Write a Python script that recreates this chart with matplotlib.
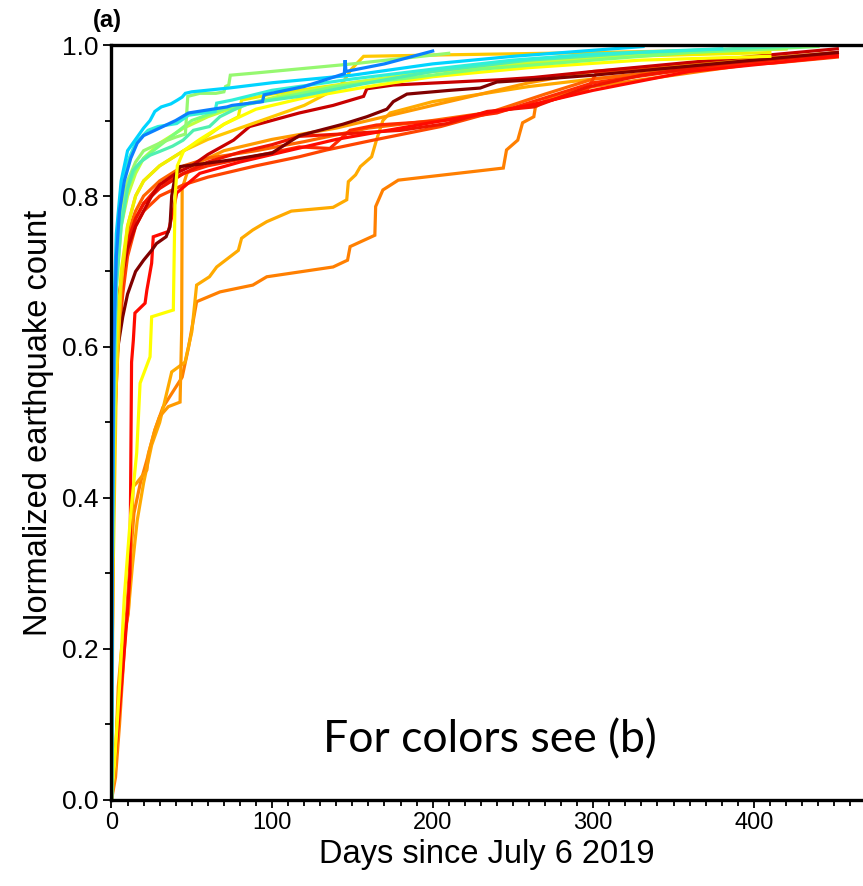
import matplotlib.pyplot as plt
from matplotlib.ticker import MultipleLocator

# ---- curves: days since 2019-07-06 vs. normalized cumulative count ----
t_blue = [0, 0.5, 1.5, 3, 5, 8, 12, 16, 20, 25, 30, 40, 48, 72, 75, 94, 95,
          120, 145, 145.5, 146, 170, 200]
n_blue = [0, 0.35, 0.6, 0.72, 0.78, 0.82, 0.85, 0.87, 0.88, 0.885, 0.89, 0.90,
          0.91, 0.918, 0.92, 0.925, 0.934, 0.945, 0.962, 0.98, 0.965, 0.975, 0.992]

t_cyan = [0, 0.5, 1.5, 3, 6, 10, 15, 20, 24, 27, 31, 37, 41, 44, 46, 50, 73,
          100, 150, 200, 250, 331]
n_cyan = [0, 0.4, 0.65, 0.75, 0.82, 0.86, 0.875, 0.89, 0.90, 0.912, 0.918,
          0.922, 0.927, 0.931, 0.936, 0.938, 0.943, 0.95, 0.96, 0.975, 0.985, 0.998]

t_mint = [0, 0.5, 1.5, 3, 6, 10, 13.5, 18, 24, 30, 38, 44.6, 51, 61, 67.5, 76,
          86, 117, 160, 200, 260, 330, 429]
n_mint = [0, 0.3, 0.55, 0.68, 0.76, 0.81, 0.834, 0.845, 0.854, 0.859, 0.866,
          0.874, 0.887, 0.892, 0.905, 0.914, 0.923, 0.932, 0.95, 0.965, 0.98,
          0.99, 0.999]

t_aqua = [0, 0.5, 1.5, 3, 6, 10, 15, 22.7, 29, 40.6, 48, 64.5, 65.5, 75, 100,
          150, 200, 250, 300, 380]
n_aqua = [0, 0.35, 0.6, 0.72, 0.8, 0.845, 0.87, 0.887, 0.892, 0.896, 0.907,
          0.912, 0.923, 0.927, 0.94, 0.955, 0.968, 0.98, 0.988, 0.995]

t_lgreen = [0, 0.5, 1.5, 3, 6, 10, 15, 20, 30, 40, 46, 47.5, 55, 65, 70, 71,
            73, 74, 90, 120, 150, 180, 210]
n_lgreen = [0, 0.3, 0.55, 0.7, 0.78, 0.82, 0.845, 0.86, 0.87, 0.878, 0.882,
            0.932, 0.936, 0.936, 0.938, 0.945, 0.947, 0.96, 0.963, 0.969,
            0.975, 0.982, 0.989]

t_green = [0, 0.5, 1.5, 3, 6, 10, 15, 20, 26, 35, 50, 70, 100, 140, 180, 230,
           300, 360, 440]
n_green = [0, 0.3, 0.55, 0.7, 0.77, 0.81, 0.835, 0.85, 0.86, 0.875, 0.9,
           0.915, 0.928, 0.945, 0.955, 0.968, 0.98, 0.99, 0.998]

t_yellow = [0, 2, 5, 8, 12, 15.7, 17.8, 24, 25, 38.5, 39.6, 41, 45, 55, 70,
            90, 120, 160, 200, 260, 330, 410]
n_yellow = [0, 0.05, 0.15, 0.27, 0.38, 0.46, 0.552, 0.587, 0.64, 0.649, 0.80,
            0.84, 0.86, 0.875, 0.895, 0.915, 0.93, 0.945, 0.958, 0.97, 0.98, 0.985]

t_yellow2 = [0, 1, 3, 6, 10, 15, 20, 30, 45, 60, 70, 79, 81, 100, 150, 200,
             260, 320, 410]
n_yellow2 = [0, 0.4, 0.6, 0.7, 0.76, 0.8, 0.82, 0.84, 0.86, 0.88, 0.895,
             0.905, 0.927, 0.935, 0.95, 0.965, 0.975, 0.985, 0.99]

t_ygreen = [0, 0.5, 1.5, 3, 6, 10, 15, 20, 30, 45, 60, 80, 110, 150, 200, 260,
            330, 420]
n_ygreen = [0, 0.3, 0.55, 0.68, 0.76, 0.8, 0.83, 0.85, 0.87, 0.89, 0.905,
            0.92, 0.935, 0.95, 0.965, 0.978, 0.988, 0.995]

t_gold = [0, 1, 3, 6, 10, 15, 20, 30, 45, 60, 80, 100, 120, 138, 144, 149,
          157, 209, 300, 420]
n_gold = [0, 0.3, 0.55, 0.68, 0.76, 0.8, 0.82, 0.84, 0.86, 0.875, 0.89,
          0.905, 0.92, 0.94, 0.95, 0.967, 0.985, 0.987, 0.99, 0.995]

t_amber = [0, 2.2, 4.2, 6.4, 10.5, 11.5, 13.5, 15.7, 22, 23, 27, 30, 35.4,
           42.7, 43.7, 44, 47, 55, 70, 100, 140, 180, 220, 260, 300, 360, 452]
n_amber = [0, 0.04, 0.15, 0.203, 0.247, 0.305, 0.415, 0.42, 0.437, 0.459,
           0.49, 0.508, 0.521, 0.527, 0.622, 0.81, 0.83, 0.845, 0.86, 0.875,
           0.89, 0.91, 0.93, 0.95, 0.965, 0.975, 0.99]

t_slow1 = [0, 2, 4, 6.4, 10.5, 13, 16, 20, 25, 30, 37.5, 45.8, 50, 53, 61,
           65.5, 79, 81, 88, 96.7, 112, 138, 146.5, 147.5, 152, 155, 162, 165,
           169, 173.5, 200, 230, 260, 300, 350, 400, 452]
n_slow1 = [0, 0.04, 0.12, 0.2, 0.25, 0.31, 0.37, 0.42, 0.47, 0.5, 0.567, 0.58,
           0.62, 0.682, 0.693, 0.706, 0.728, 0.744, 0.755, 0.766, 0.78, 0.785,
           0.795, 0.819, 0.828, 0.839, 0.852, 0.874, 0.9, 0.91, 0.925, 0.935,
           0.945, 0.955, 0.965, 0.975, 0.988]

t_slow2 = [0, 2.5, 5, 8, 11, 14, 18, 22, 27, 32, 38, 44, 48, 53, 67.6, 88,
           96.7, 138, 147, 148.6, 164, 164.5, 169, 178.6, 244, 246, 253, 256,
           263, 264, 273, 300, 350, 400, 452]
n_slow2 = [0, 0.03, 0.1, 0.2, 0.3, 0.38, 0.42, 0.45, 0.49, 0.52, 0.54, 0.56,
           0.6, 0.66, 0.673, 0.682, 0.693, 0.706, 0.715, 0.733, 0.748, 0.786,
           0.808, 0.821, 0.837, 0.861, 0.874, 0.897, 0.905, 0.918, 0.93, 0.945,
           0.96, 0.975, 0.99]

t_maroon = [0, 0.5, 1, 2, 4, 7, 10, 15, 20, 25, 28, 34, 36.4, 37.5, 39.6,
            42.7, 58, 75, 100, 117, 144, 159, 171.5, 175.5, 184, 211, 229.6,
            240, 263, 300, 350, 400, 452]
n_maroon = [0, 0.25, 0.45, 0.55, 0.6, 0.64, 0.67, 0.7, 0.715, 0.728, 0.737,
            0.746, 0.759, 0.8, 0.826, 0.839, 0.843, 0.848, 0.857, 0.88, 0.895,
            0.905, 0.915, 0.925, 0.935, 0.94, 0.943, 0.951, 0.954, 0.96, 0.97,
            0.98, 0.99]

t_dred = [0, 0.5, 1, 2, 4, 7, 10, 15, 20, 25, 30, 40, 50, 60, 76, 86, 117,
          138, 157, 159, 175.5, 242, 263, 300, 350, 400, 452]
n_dred = [0, 0.3, 0.5, 0.6, 0.66, 0.7, 0.73, 0.76, 0.78, 0.8, 0.815, 0.83,
          0.84, 0.855, 0.874, 0.892, 0.91, 0.92, 0.932, 0.942, 0.947, 0.954,
          0.957, 0.965, 0.975, 0.985, 0.995]

t_redlate = [0, 5, 10, 11.5, 12.5, 13.6, 14.6, 20.9, 22, 25, 26, 35.4, 38.5,
             40.6, 55, 80, 110, 140, 180, 220, 260, 300, 360, 452]
n_redlate = [0, 0.12, 0.25, 0.3, 0.58, 0.609, 0.645, 0.658, 0.675, 0.711,
             0.746, 0.753, 0.781, 0.804, 0.83, 0.845, 0.86, 0.875, 0.89, 0.905,
             0.92, 0.94, 0.965, 0.985]

t_red = [0, 0.5, 1, 2, 4, 7, 10, 15, 20, 30, 45, 60, 80, 100, 117, 150, 180,
         209, 234, 263, 296, 330, 380, 452]
n_red = [0, 0.35, 0.5, 0.58, 0.65, 0.7, 0.74, 0.77, 0.79, 0.81, 0.83, 0.845,
         0.858, 0.868, 0.879, 0.883, 0.887, 0.896, 0.912, 0.918, 0.944, 0.96,
         0.975, 0.988]

t_ored = [0, 0.5, 1, 2, 4, 7, 10, 15, 20, 30, 45, 60, 90, 117, 134, 163, 205,
          234, 267, 296, 302, 350, 412, 452]
n_ored = [0, 0.2, 0.38, 0.5, 0.6, 0.67, 0.72, 0.76, 0.78, 0.8, 0.815, 0.825,
          0.84, 0.852, 0.861, 0.874, 0.892, 0.909, 0.923, 0.94, 0.963, 0.97,
          0.976, 0.984]

t_rorange = [0, 0.5, 1, 2, 4, 7, 10, 15, 20, 30, 45, 60, 90, 117, 136, 148.6,
             165, 207, 240, 270, 300, 350, 400, 452]
n_rorange = [0, 0.3, 0.45, 0.55, 0.63, 0.69, 0.73, 0.77, 0.79, 0.815, 0.83,
             0.84, 0.853, 0.865, 0.863, 0.887, 0.894, 0.9, 0.91, 0.93, 0.95,
             0.965, 0.978, 0.99]

t_orange = [0, 0.5, 1, 2, 4, 7, 10, 15, 20, 30, 45, 60, 90, 120, 160, 200,
            236, 246, 270, 300, 350, 452]
n_orange = [0, 0.2, 0.35, 0.5, 0.62, 0.7, 0.75, 0.78, 0.8, 0.82, 0.84, 0.85,
            0.86, 0.872, 0.89, 0.9, 0.911, 0.918, 0.935, 0.955, 0.967, 0.99]

curves = [
    (t_slow2, n_slow2, "#ff7f00"),
    (t_slow1, n_slow1, "#ffaa00"),
    (t_amber, n_amber, "#ff9a00"),
    (t_orange, n_orange, "#ff6400"),
    (t_ored, n_ored, "#ff4500"),
    (t_rorange, n_rorange, "#ff2a00"),
    (t_red, n_red, "#f01400"),
    (t_redlate, n_redlate, "#ff0a00"),
    (t_dred, n_dred, "#c80000"),
    (t_maroon, n_maroon, "#800000"),
    (t_gold, n_gold, "#ffc800"),
    (t_yellow2, n_yellow2, "#f0f000"),
    (t_yellow, n_yellow, "#ffff00"),
    (t_ygreen, n_ygreen, "#c0ff3c"),
    (t_green, n_green, "#7cff7a"),
    (t_lgreen, n_lgreen, "#96f870"),
    (t_mint, n_mint, "#50f0b0"),
    (t_aqua, n_aqua, "#30f0d8"),
    (t_cyan, n_cyan, "#00d4ff"),
    (t_blue, n_blue, "#0a80ff"),
]

SANS = "Liberation Sans"

fig = plt.figure(figsize=(8.63, 8.86), dpi=100)
ax = fig.add_axes([0.1292, 0.0971, 0.8708, 0.8521])

for t, n, c in curves:
    ax.plot(t, n, color=c, lw=2.3, solid_joinstyle="miter")

ax.set_xlim(0, 468)
ax.set_ylim(0, 1.0)
ax.spines["right"].set_visible(False)
for side in ("left", "bottom", "top"):
    ax.spines[side].set_linewidth(2.4)
    ax.spines[side].set_zorder(5)

ax.xaxis.set_major_locator(MultipleLocator(100))
ax.xaxis.set_minor_locator(MultipleLocator(10))
ax.yaxis.set_major_locator(MultipleLocator(0.2))
ax.yaxis.set_minor_locator(MultipleLocator(0.1))
ax.yaxis.set_major_formatter(plt.FormatStrFormatter("%.1f"))
ax.tick_params(which="major", length=6, width=1.3, pad=3)
ax.tick_params(which="minor", length=4, width=1.3)
ax.tick_params(axis="y", labelsize=19)
ax.tick_params(axis="x", labelsize=17)
ax.tick_params(top=False, right=False)
for lab in ax.get_xticklabels() + ax.get_yticklabels():
    lab.set_family(SANS)

ax.set_xlabel("Days since July 6 2019", fontsize=23.5, labelpad=3, family=SANS)
ax.set_ylabel("Normalized earthquake count", fontsize=23.5, labelpad=6,
              family=SANS)

fig.text(0.108, 0.977, "(a)", fontsize=17, fontweight="bold", family=SANS,
         va="center")
fig.text(0.568, 0.165, "For colors see (b)", fontsize=32, family="Lato",
         ha="center", va="center")

fig.savefig("out.png", dpi=100)
